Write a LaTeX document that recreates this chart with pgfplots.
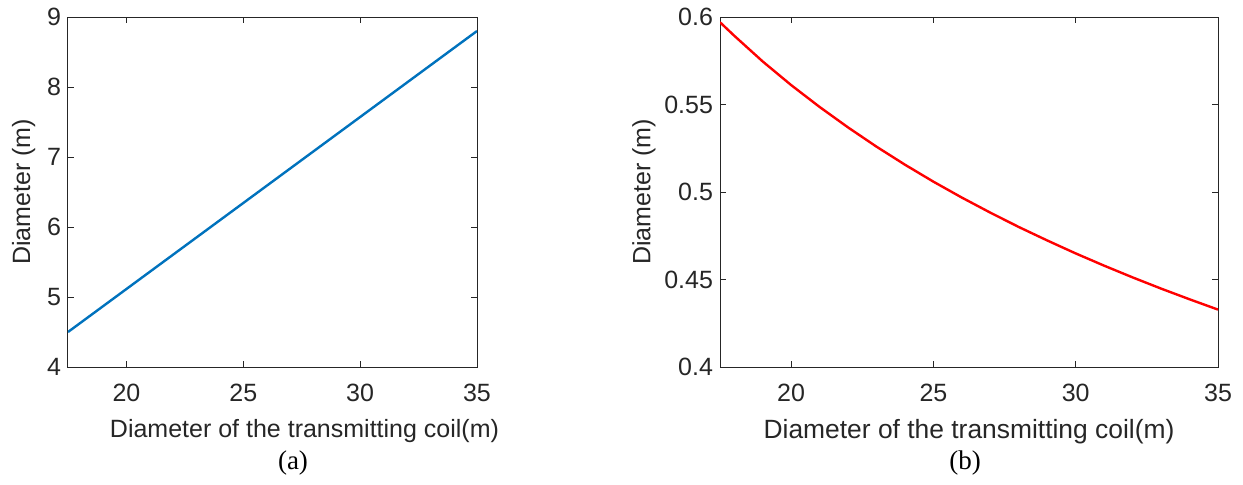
\documentclass[border=0pt]{standalone}
\usepackage{fontspec}
\setmainfont{Liberation Sans}
\newfontfamily\capfont{Liberation Serif}
\usepackage{pgfplots}
\pgfplotsset{compat=1.18}

\definecolor{mblue}{rgb}{0,0.447,0.741}
\definecolor{axgray}{rgb}{0.15,0.15,0.15}

\pgfplotsset{
  mstyle/.style={
    scale only axis,
    height=175pt,
    xmin=17.5, xmax=35,
    xtick={20,25,30,35},
    tick align=inside,
    major tick length=3pt,
    axis line style={axgray, line width=0.5pt},
    every tick/.style={axgray, line width=0.5pt},
    tick label style={font=\fontsize{12.5}{14}\selectfont, text=axgray},
    label style={font=\fontsize{12.5}{14}\selectfont, text=axgray},
    xticklabel style={yshift=-5pt},
    /pgf/number format/assume math mode=true,
    xlabel={Diameter of the transmitting coil(m)},
    ylabel={Diameter (m)},
  }
}

\begin{document}
\begin{tikzpicture}
\useasboundingbox (0,0) rectangle (621.5pt,242pt);

\begin{axis}[mstyle,
  at={(34pt,58.5pt)}, anchor=south west,
  width=204.5pt,
  ymin=4, ymax=9, ytick={4,5,6,7,8,9},
  xlabel style={yshift=-2pt, xshift=16pt},
  ylabel style={yshift=-1pt},
]
\addplot[mblue, line width=1.2pt] coordinates {
  (17.5,4.50) (35,8.80)
};
\end{axis}

\begin{axis}[mstyle,
  at={(360pt,58.5pt)}, anchor=south west,
  width=249pt,
  ymin=0.4, ymax=0.6, ytick={0.4,0.45,0.5,0.55,0.6},
  yticklabel style={/pgf/number format/fixed, /pgf/number format/precision=2},
  xlabel style={yshift=-2pt, font=\fontsize{13.2}{15}\selectfont},
  ylabel style={yshift=-2.5pt},
]
\addplot[red, line width=1.2pt] coordinates {
  (17.5,0.5970) (18,0.5893) (19,0.5746) (20,0.5611) (21,0.5486)
  (22,0.5369) (23,0.5259) (24,0.5156) (25,0.5059) (26,0.4968)
  (27,0.4882) (28,0.4800) (29,0.4723) (30,0.4649) (31,0.4579)
  (32,0.4512) (33,0.4448) (34,0.4387) (35,0.4328)
};
\end{axis}

\node[font=\capfont\fontsize{13.5}{15}\selectfont] at (146.5pt,10.5pt) {(a)};
\node[font=\capfont\fontsize{13.5}{15}\selectfont] at (482.5pt,10.5pt) {(b)};
\end{tikzpicture}
\end{document}
